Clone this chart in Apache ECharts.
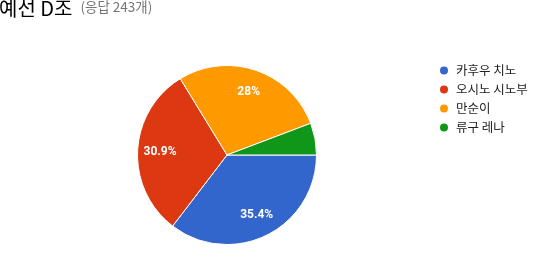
<!DOCTYPE html>
<html><head><meta charset="utf-8">
<script src="https://cdn.jsdelivr.net/npm/echarts@6/dist/echarts.min.js"></script>
<style>html,body{margin:0;padding:0;background:#fff}#c{width:535px;height:253px}</style>
</head><body><div id="c"></div>
<script>
const titleText = '예선 D조';
const subtitleText = '(응답 243개)';
const categories = ['카후우 치노', '오시노 시노부', '만순이', '류구 레나'];
const values = [86, 75, 68, 14];
const colors = ['#3366cc', '#dc3912', '#ff9900', '#109618'];

const total = values.reduce((a, b) => a + b, 0);
const data = categories.map((n, i) => ({ name: n, value: values[i], itemStyle: { color: colors[i] } }));
const chart = echarts.init(document.getElementById('c'), null, { renderer: 'canvas' });
chart.setOption({
  animation: false,
  title: {
    text: '{a|' + titleText + '}{b|' + subtitleText + '}',
    left: -1, top: -2, padding: 0,
    textStyle: {
      rich: {
        a: { fontFamily: 'Noto Sans CJK KR', fontSize: 20, fontWeight: 'normal', color: '#000' },
        b: { fontFamily: 'Noto Sans CJK KR', fontSize: 13.5, fontWeight: 'normal', color: '#757575', padding: [0, 0, 2, 8] }
      }
    }
  },
  legend: {
    orient: 'vertical', left: 438, top: 63.5, padding: 0,
    icon: 'circle', itemWidth: 10, itemHeight: 10, itemGap: 5,
    textStyle: { fontFamily: 'Noto Sans CJK KR', fontSize: 12.5, lineHeight: 14, color: '#222', padding: [0, 0, 0, 2] },
    data: categories
  },
  series: [
    {
      type: 'pie', center: [227, 155], radius: 89.5, startAngle: 0, clockwise: true,
      label: { show: false }, labelLine: { show: false },
      itemStyle: { borderColor: '#fff', borderWidth: 1 },
      emphasis: { disabled: true },
      data: data
    },
    {
      type: 'pie', center: [227, 155], radius: [40, 88], startAngle: 0, clockwise: true,
      silent: true,
      itemStyle: { color: 'rgba(0,0,0,0)', borderWidth: 0 },
      label: {
        show: true, position: 'inside', color: '#fff', fontWeight: 'bold',
        fontFamily: 'Roboto', fontSize: 12,
        formatter: p => {
          const pct = p.value / total * 100;
          if (pct < 8) return '';
          return parseFloat(pct.toFixed(1)) + '%';
        }
      },
      labelLine: { show: false },
      emphasis: { disabled: true },
      data: categories.map((n, i) => ({ name: n, value: values[i] }))
    }
  ]
});
</script></body></html>
